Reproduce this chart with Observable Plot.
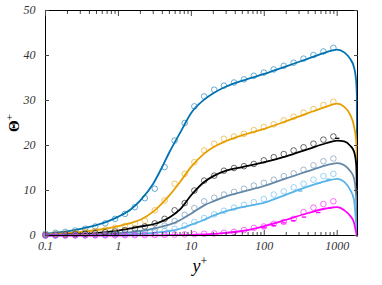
<!DOCTYPE html>
<html>
<head>
<meta charset="utf-8">
<script src="https://cdn.jsdelivr.net/npm/d3@7"></script>
<script src="https://cdn.jsdelivr.net/npm/@observablehq/plot@0.6"></script>
<style>
  html, body { margin: 0; padding: 0; background: white; }
</style>
</head>
<body>
<div id="chart"></div>
<script>
// ---- data ----
const series = ["A", "B", "C", "D", "E", "F"];
const seriesColors = ["#0072B2", "#E69F00", "#000000", "#6488a8", "#56B4E9", "#FF00FF"];

const markerX = [0.1, 0.137, 0.187, 0.256, 0.35, 0.48, 0.66, 0.9, 1.23, 1.68, 2.3, 3.15, 4.3, 5.9, 8.1, 11, 15, 20.6, 28, 38.5, 52.7, 72, 98.6, 135, 185, 253, 346, 473, 648, 887];
const blueDots    = [0.4,0.6,0.8,1.1,1.5,2.0,2.7,3.7,4.8,6.3,8.3,10.4,15.2,21.1,25.0,28.7,30.9,32.4,33.3,34.0,34.7,35.5,36.2,36.9,37.7,38.4,39.3,40.1,40.9,41.7];
const orangeDots  = [0.2,0.3,0.4,0.6,0.8,1.0,1.3,1.7,2.1,2.6,3.3,5.6,7.8,11.5,13.7,16.3,18.9,20.4,21.5,22.0,22.6,23.4,24.1,24.7,25.6,26.4,27.3,28.1,29.0,29.7];
const blackDots   = [0.1,0.15,0.2,0.3,0.4,0.5,0.7,0.9,1.2,1.5,2.0,2.7,3.7,5.6,7.2,10.0,12.2,13.3,14.4,15.0,15.4,15.9,16.7,17.4,18.1,18.9,19.6,20.4,21.3,22.0];
const slateDots   = [0,0.05,0.1,0.1,0.15,0.2,0.25,0.35,0.45,0.6,0.8,1.2,2.2,3.2,4.6,6.1,7.6,8.4,9.1,9.7,10.4,11.1,11.7,12.4,13.2,13.8,14.6,15.6,16.5,17.1];
const lightDots   = [0,0.02,0.04,0.06,0.08,0.1,0.13,0.17,0.22,0.3,0.5,0.7,1.0,1.5,2.2,3.0,3.9,4.7,5.5,6.2,6.8,7.4,8.1,9.1,9.8,10.7,11.5,12.4,13.2,13.7];
const magentaDots = [0,0,0,0.01,0.01,0.02,0.03,0.04,0.05,0.07,0.1,0.12,0.15,0.2,0.25,0.3,0.38,0.45,0.6,0.8,1.2,1.7,2.0,2.6,3.0,3.7,5.2,6.2,7.0,7.6];

const lineX = [0.1,0.2,0.4,0.7,1,1.5,2,3,4,5,7,10,15,20,30,50,100,200,400,700,1000,1250,1500,1700,1820,1860,1880];
const blueLine    = [0.4,0.9,1.9,3.1,4.2,5.9,7.8,11.5,15.3,18.5,22.8,27.3,30.2,31.6,33.1,34.4,35.9,37.6,39.3,40.7,41.3,40.7,39.3,37.4,34.4,31,0];
const orangeLine  = [0.2,0.5,1.0,1.6,2.1,2.8,3.5,5.3,7.2,8.9,11.9,15.3,18.2,19.6,21.0,22.3,23.7,25.4,27.2,28.6,29.3,28.6,26.9,24.3,21.1,17,0];
const blackLine   = [0.1,0.2,0.4,0.8,1.1,1.6,2.0,2.5,3.2,4.0,5.8,9.0,11.9,13.2,14.4,15.2,16.3,17.6,19.2,20.5,21.1,20.9,20.0,18.7,15.9,10,0];
const slateLine   = [0,0.1,0.2,0.35,0.5,0.75,1.0,1.5,2.0,2.4,3.4,4.9,6.7,7.6,8.7,9.7,11.0,12.7,14.3,15.6,16.1,15.6,14.4,12.8,8.5,3,0];
const lightLine   = [0,0.03,0.06,0.12,0.18,0.3,0.4,0.6,0.8,1.0,1.5,2.4,3.5,4.4,5.4,6.3,7.3,9.1,10.9,12.1,12.6,11.9,10.2,8.0,2.6,0.5,0];
const magentaLine = [0,0,0,0,0,0.01,0.02,0.03,0.05,0.07,0.1,0.15,0.25,0.35,0.6,1.0,2.1,3.5,5.0,6.0,6.3,5.6,4.4,2.9,0.7,0.1,0];

// small dash markers
const dashSeries = ["F","F","F","F","F","F","F","E","E","E","C"];
const dashX = [100,135,185,250,350,550,800,310,550,760,1000];
const dashY = [1.7,2.2,2.8,3.3,4.1,5.1,6.1,9.9,11.6,12.5,21.6];

const xTicks = [0.1, 1, 10, 100, 1000];
const xTickLabels = ["0.1", "1", "10", "100", "1000"];
const xMinorTicks = [0.2,0.3,0.4,0.5,0.6,0.7,0.8,0.9,2,3,4,5,6,7,8,9,20,30,40,50,60,70,80,90,200,300,400,500,600,700,800,900];
const yTicks = [0, 10, 20, 30, 40, 50];
const yTickLabels = ["0", "10", "20", "30", "40", "50"];

// ---- build tables ----
const dotArrays = [blueDots, orangeDots, blackDots, slateDots, lightDots, magentaDots];
const lineArrays = [blueLine, orangeLine, blackLine, slateLine, lightLine, magentaLine];
const dots = [];
dotArrays.forEach((arr, s) => arr.forEach((v, i) => dots.push({s: series[s], x: markerX[i], y: v})));
const lines = [];
lineArrays.forEach((arr, s) => arr.forEach((v, i) => lines.push({s: series[s], x: lineX[i], y: v})));
const dashes = dashX.map((x, i) => ({s: dashSeries[i], x, y: dashY[i]}));

const dashSymbol = { draw(ctx) { ctx.moveTo(-2.2, 0); ctx.lineTo(2.2, 0); } };
const serif = "'Liberation Serif', 'Times New Roman', serif";
const noLabel = () => "";

const chart = Plot.plot({
  width: 382,
  height: 285,
  marginLeft: 45,
  marginRight: 25,
  marginTop: 10,
  marginBottom: 50,
  style: {fontFamily: serif, fontStyle: "italic", fontSize: "12px", color: "#333", background: "white"},
  x: {type: "log", domain: [0.1, 1900]},
  y: {domain: [0, 50]},
  color: {domain: series, range: seriesColors},
  marks: [
    Plot.line(lines, {x: "x", y: "y", z: "s", stroke: "s", strokeWidth: 1.8, curve: "monotone-x"}),
    Plot.dot(dots, {x: "x", y: "y", stroke: "s", r: 2.8, strokeWidth: 0.9, strokeOpacity: 0.65, fill: "none"}),
    Plot.dot(dashes, {x: "x", y: "y", stroke: "s", symbol: dashSymbol, strokeWidth: 1.3, r: 3}),
    Plot.frame({stroke: "#000", strokeWidth: 1}),
    Plot.axisX({anchor: "bottom", ticks: xTicks, tickSize: -5, tickPadding: 11, stroke: "#444",
      tickFormat: d => xTickLabels[xTicks.indexOf(d)], label: null}),
    Plot.axisX({anchor: "bottom", ticks: xMinorTicks, tickSize: -3, stroke: "#444", tickFormat: noLabel, label: null}),
    Plot.axisX({anchor: "top", ticks: xTicks, tickSize: -5, stroke: "#444", tickFormat: noLabel, label: null}),
    Plot.axisX({anchor: "top", ticks: xMinorTicks, tickSize: -3, stroke: "#444", tickFormat: noLabel, label: null}),
    Plot.axisY({anchor: "left", ticks: yTicks, tickSize: -4, tickPadding: 14, stroke: "#444",
      tickFormat: d => yTickLabels[yTicks.indexOf(d)], label: null}),
    Plot.axisY({anchor: "right", ticks: yTicks, tickSize: -4, stroke: "#444", tickFormat: noLabel, label: null})
  ]
});

document.getElementById("chart").appendChild(chart);

// axis titles
const svg = d3.select(chart);
const yl = svg.append("text")
  .attr("transform", "translate(19,123) rotate(-90)")
  .attr("text-anchor", "middle")
  .style("font-family", serif)
  .style("font-style", "normal")
  .style("font-weight", "bold")
  .style("font-size", "15px")
  .attr("fill", "#000");
yl.append("tspan").text("Θ");
yl.append("tspan").attr("dy", -6).style("font-size", "11px").style("font-weight", "normal").text("+");

const xl = svg.append("text")
  .attr("x", 200).attr("y", 272)
  .attr("text-anchor", "middle")
  .style("font-family", serif)
  .style("font-style", "italic")
  .style("font-size", "18px")
  .attr("fill", "#000");
xl.append("tspan").text("y");
xl.append("tspan").attr("dy", -7).style("font-size", "12px").style("font-style", "normal").text("+");
</script>
</body>
</html>
